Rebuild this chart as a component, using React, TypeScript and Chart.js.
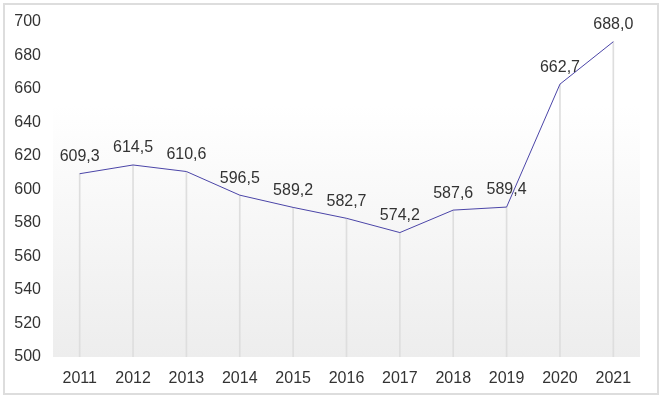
import React, { useEffect, useRef } from "react";
import { Chart, registerables } from "chart.js";

Chart.register(...registerables);

const categories = ["2011", "2012", "2013", "2014", "2015", "2016", "2017", "2018", "2019", "2020", "2021"];
const values = [609.3, 614.5, 610.6, 596.5, 589.2, 582.7, 574.2, 587.6, 589.4, 662.7, 688.0];
const yMin = 500;
const yMax = 700;
const yStep = 20;

const FONT = "'Liberation Sans', Arial, sans-serif";

const bgPlugin = {
  id: "bgGradient",
  beforeDraw(chart: any) {
    const { ctx, chartArea } = chart;
    if (!chartArea) return;
    const g = ctx.createLinearGradient(0, chartArea.top, 0, chartArea.bottom);
    g.addColorStop(0, "#ffffff");
    g.addColorStop(0.25, "#ffffff");
    g.addColorStop(1, "#ededed");
    ctx.save();
    ctx.fillStyle = g;
    ctx.fillRect(chartArea.left, chartArea.top, chartArea.right - chartArea.left, chartArea.bottom - chartArea.top);
    ctx.restore();
  },
};

const labelPlugin = {
  id: "valueLabels",
  afterDatasetsDraw(chart: any) {
    const { ctx } = chart;
    const meta = chart.getDatasetMeta(1);
    ctx.save();
    ctx.font = `16px ${FONT}`;
    ctx.fillStyle = "#333333";
    ctx.textAlign = "center";
    ctx.textBaseline = "middle";
    meta.data.forEach((pt: any, i: number) => {
      const v = values[i];
      ctx.fillText(v.toFixed(1).replace(".", ","), pt.x, pt.y - 17);
    });
    ctx.restore();
  },
};

export default function App() {
  const ref = useRef<HTMLCanvasElement | null>(null);
  useEffect(() => {
    if (!ref.current) return;
    const chart = new Chart(ref.current, {
      type: "bar",
      data: {
        labels: categories,
        datasets: [
          {
            type: "bar",
            data: values,
            backgroundColor: "#dedede",
            barThickness: 1,
            order: 2,
          } as any,
          {
            type: "line",
            data: values,
            borderColor: "#4b45a8",
            borderWidth: 1,
            pointRadius: 0,
            fill: false,
            tension: 0,
            order: 1,
          } as any,
        ],
      },
      options: {
        animation: false,
        responsive: false,
        maintainAspectRatio: false,
        layout: { padding: { left: 10, right: 22, top: 20, bottom: 13 } },
        plugins: { legend: { display: false }, tooltip: { enabled: false } },
        scales: {
          x: {
            offset: true,
            grid: { display: false, drawTicks: false },
            border: { display: false },
            ticks: { color: "#333333", font: { size: 16, family: FONT }, padding: 12, maxRotation: 0 },
            afterFit(scale: any) {
              scale.height = 30;
            },
          },
          y: {
            min: yMin,
            max: yMax,
            grid: { display: false, drawTicks: false },
            border: { display: false },
            ticks: { stepSize: yStep, color: "#333333", font: { size: 16, family: FONT }, padding: 12 },
            afterFit(scale: any) {
              scale.width = 43;
            },
          },
        },
      },
      plugins: [bgPlugin, labelPlugin],
    });
    return () => chart.destroy();
  }, []);
  return (
    <div style={{ position: "absolute", left: 0, top: 0, width: 662, height: 400, background: "#fff" }}>
      <div
        style={{
          position: "absolute",
          left: 3,
          top: 3,
          width: 652,
          height: 388,
          border: "2px solid #dddddd",
        }}
      />
      <canvas ref={ref} width={662} height={400} style={{ position: "absolute", left: 0, top: 0, width: 662, height: 400 }} />
    </div>
  );
}
